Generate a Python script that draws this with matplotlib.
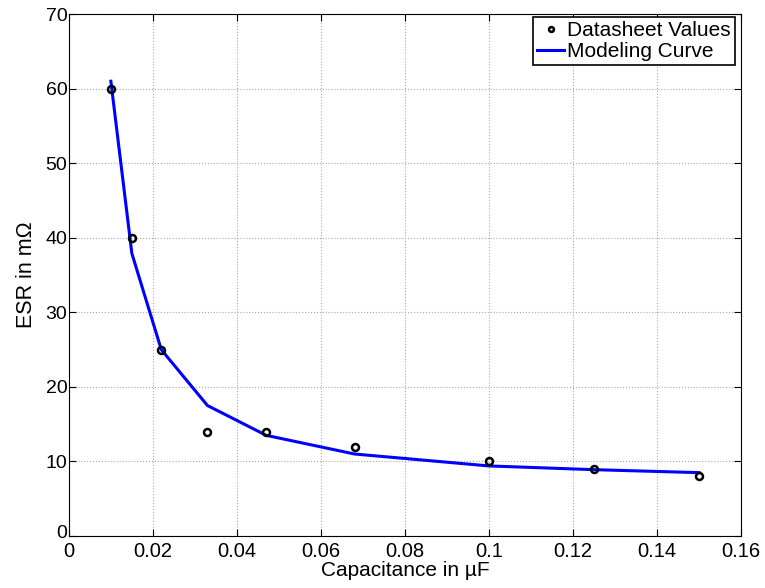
import numpy as np
import matplotlib.pyplot as plt
from matplotlib.transforms import ScaledTranslation

plt.rcParams['font.family'] = ['Liberation Sans', 'DejaVu Sans']

# datasheet values
cap_ds = [0.01, 0.015, 0.022, 0.033, 0.047, 0.068, 0.1, 0.125, 0.15]
esr_ds = [60, 40, 25, 14, 14, 12, 10, 9, 8]

# modeling curve
esr_model = [61, 37.9, 25.0, 17.5, 13.5, 11.0, 9.4, 8.9, 8.5]

xticks = [0, 0.02, 0.04, 0.06, 0.08, 0.1, 0.12, 0.14, 0.16]
xtick_labels = ['0', '0.02', '0.04', '0.06', '0.08', '0.1', '0.12', '0.14', '0.16']
yticks = [0, 10, 20, 30, 40, 50, 60, 70]

fig = plt.figure(figsize=(7.65, 5.88), dpi=100)
ax = fig.add_axes([0.090, 0.0884, 0.8786, 0.8876])

ax.plot(cap_ds, esr_ds, 'o', mfc='none', mec='black', mew=1.8, ms=5,
        label='Datasheet Values', zorder=3)
ax.plot(cap_ds, esr_model, '-', color='#0000ff', lw=2.2,
        label='Modeling Curve', zorder=2)

ax.set_xlim(0, 0.16)
ax.set_ylim(0, 70)
ax.set_xticks(xticks)
ax.set_xticklabels(xtick_labels, fontsize=14.5)
ax.set_yticks(yticks)
ax.set_yticklabels([str(v) for v in yticks], fontsize=14)
ax.tick_params(direction='in', top=True, right=True, length=5)
ax.tick_params(axis='x', pad=4)
ax.tick_params(axis='y', pad=1)
ax.grid(True, linestyle=':', color='#a8a8a8', linewidth=0.8)
for s in ax.spines.values():
    s.set_linewidth(0.8)

# nudge the y "0" up a little so it clears the x "0"
lab0 = ax.yaxis.get_major_ticks()[0].label1
lab0.set_transform(lab0.get_transform() + ScaledTranslation(0, 3 / 72, fig.dpi_scale_trans))

ax.set_xlabel('Capacitance in \u00b5F', fontsize=15, labelpad=0.5)
ax.set_ylabel('ESR in m\u03a9', fontsize=15.5, labelpad=6)

leg = ax.legend(loc='upper right', bbox_to_anchor=(735 / 765, (588 - 17) / 588),
                bbox_transform=fig.transFigure, borderaxespad=0,
                prop={'size': 15}, fancybox=False, framealpha=1,
                edgecolor='black', borderpad=0.2, handlelength=1.3,
                handletextpad=0.15, labelspacing=0.1, markerscale=0.7)
leg.get_frame().set_linewidth(1.2)

fig.savefig('out.png', dpi=100)
